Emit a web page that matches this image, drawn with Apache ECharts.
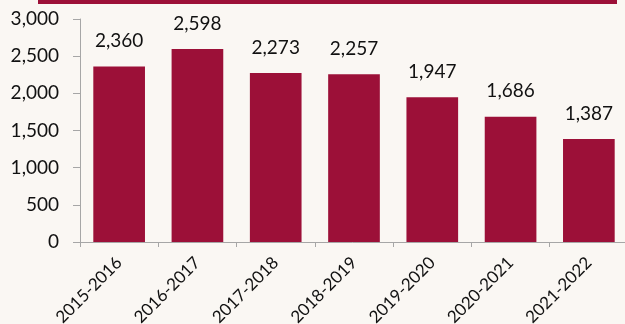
<!DOCTYPE html>
<html>
<head>
<meta charset="utf-8">
<script src="https://cdn.jsdelivr.net/npm/echarts@6/dist/echarts.min.js"></script>
<style>
    html, body { margin: 0; padding: 0; background: #faf7f3; }
    #myChart { width: 625px; height: 324px; }
</style>
</head>
<body>
<div id="myChart"></div>
<script>
    // 学年
    let years = ["2015-2016", "2016-2017", "2017-2018", "2018-2019", "2019-2020", "2020-2021", "2021-2022"];
    // 数值
    let counts = [2360, 2598, 2273, 2257, 1947, 1686, 1387];

    let myChart = echarts.init(document.getElementById("myChart"));
    myChart.setOption({
        backgroundColor: "#faf7f3",
        textStyle: { fontFamily: "Lato" },
        graphic: [
            {
                type: "rect",
                left: 38,
                top: 0,
                shape: { width: 579, height: 4 },
                style: { fill: "#9c1038" }
            }
        ],
        grid: {
            left: 80,
            right: -3,
            top: 19,
            bottom: 82,
            outerBoundsMode: "none" // 不自动收缩
        },
        xAxis: {
            type: "category",
            data: years,
            axisLine: { lineStyle: { color: "#a6a6a6" } },
            axisTick: { show: true, length: 5, lineStyle: { color: "#a6a6a6" } },
            axisLabel: {
                rotate: 45,
                interval: 0,
                margin: 18,
                color: "#111",
                fontSize: 17,
                fontFamily: "Lato"
            }
        },
        yAxis: {
            type: "value",
            min: 0,
            max: 3000,
            interval: 500,
            splitLine: { show: false },
            axisLine: { show: true, lineStyle: { color: "#a6a6a6" } },
            axisTick: { show: true, length: 7, lineStyle: { color: "#a6a6a6" } },
            axisLabel: {
                margin: 21,
                color: "#111",
                fontSize: 19,
                fontFamily: "Lato",
                formatter: function (v) { return v.toLocaleString("en-US"); }
            }
        },
        series: [
            {
                type: "bar",
                data: counts,
                barWidth: "66%",
                itemStyle: { color: "#9c1038" },
                label: {
                    show: true,
                    position: "top",
                    distance: 16,
                    color: "#111",
                    fontSize: 19,
                    fontFamily: "Lato",
                    formatter: function (p) { return p.value.toLocaleString("en-US"); }
                }
            }
        ]
    });
</script>
</body>
</html>
